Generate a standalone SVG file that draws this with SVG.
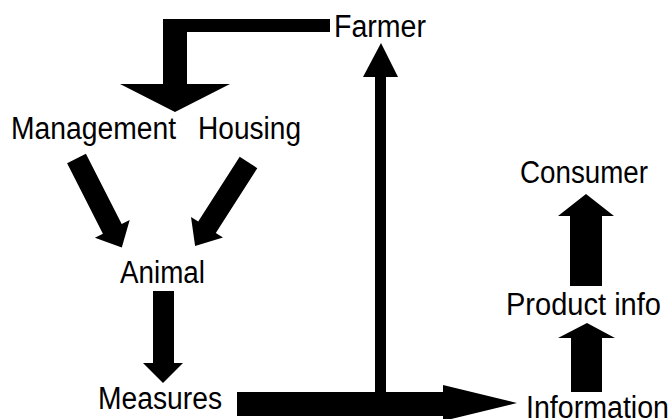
<svg xmlns="http://www.w3.org/2000/svg" width="670" height="419" viewBox="0 0 670 419">
<style>
.lbl{font-family:"Liberation Sans",Arial,sans-serif;font-size:31px;fill:#000}
.arr{fill:#000;stroke:none}
</style>
<rect width="670" height="419" fill="#fff"/>
<g id="connectors">
<polygon class="arr" points="330,19 163,19 163,84 120,84 175,112 230,84 187,84 187,32 330,32"/>
<polygon class="arr" points="85.9,153.7 121.7,224.1 129.7,220.1 121.8,247.6 94.9,237.7 102.9,233.7 67.1,163.3"/>
<polygon class="arr" points="239.7,156.8 198.2,221.6 191,217.1 195.1,245.9 223,237.5 215.8,233 257.3,168.2"/>
<polygon class="arr" points="153,291 174,291 174,363 183,363 163,383 143,363 153,363"/>
<polygon class="arr" points="237,392 375,392 375,77 363,77 381,43 398,77 386,77 386,392 443,392 443,385 517,403 443,421 443,416 237,416"/>
<polygon class="arr" points="571,392 571,338 558,338 587,323 615,338 602,338 602,392"/>
<polygon class="arr" points="570,286 570,216 558,216 586,194 614,216 602,216 602,286"/>
</g>
<g id="farmer"><text class="lbl" x="334" y="37" textLength="92" lengthAdjust="spacingAndGlyphs">Farmer</text></g>
<g id="management"><text class="lbl" x="11" y="139" textLength="165" lengthAdjust="spacingAndGlyphs">Management</text></g>
<g id="housing"><text class="lbl" x="198" y="139" textLength="103" lengthAdjust="spacingAndGlyphs">Housing</text></g>
<g id="animal"><text class="lbl" x="120" y="283" textLength="85" lengthAdjust="spacingAndGlyphs">Animal</text></g>
<g id="measures"><text class="lbl" x="98" y="409" textLength="124" lengthAdjust="spacingAndGlyphs">Measures</text></g>
<g id="consumer"><text class="lbl" x="520" y="183" textLength="128" lengthAdjust="spacingAndGlyphs">Consumer</text></g>
<g id="productinfo"><text class="lbl" x="506" y="315" textLength="155" lengthAdjust="spacingAndGlyphs">Product info</text></g>
<g id="information"><text class="lbl" x="526" y="418" textLength="143" lengthAdjust="spacingAndGlyphs">Information</text></g>
</svg>
